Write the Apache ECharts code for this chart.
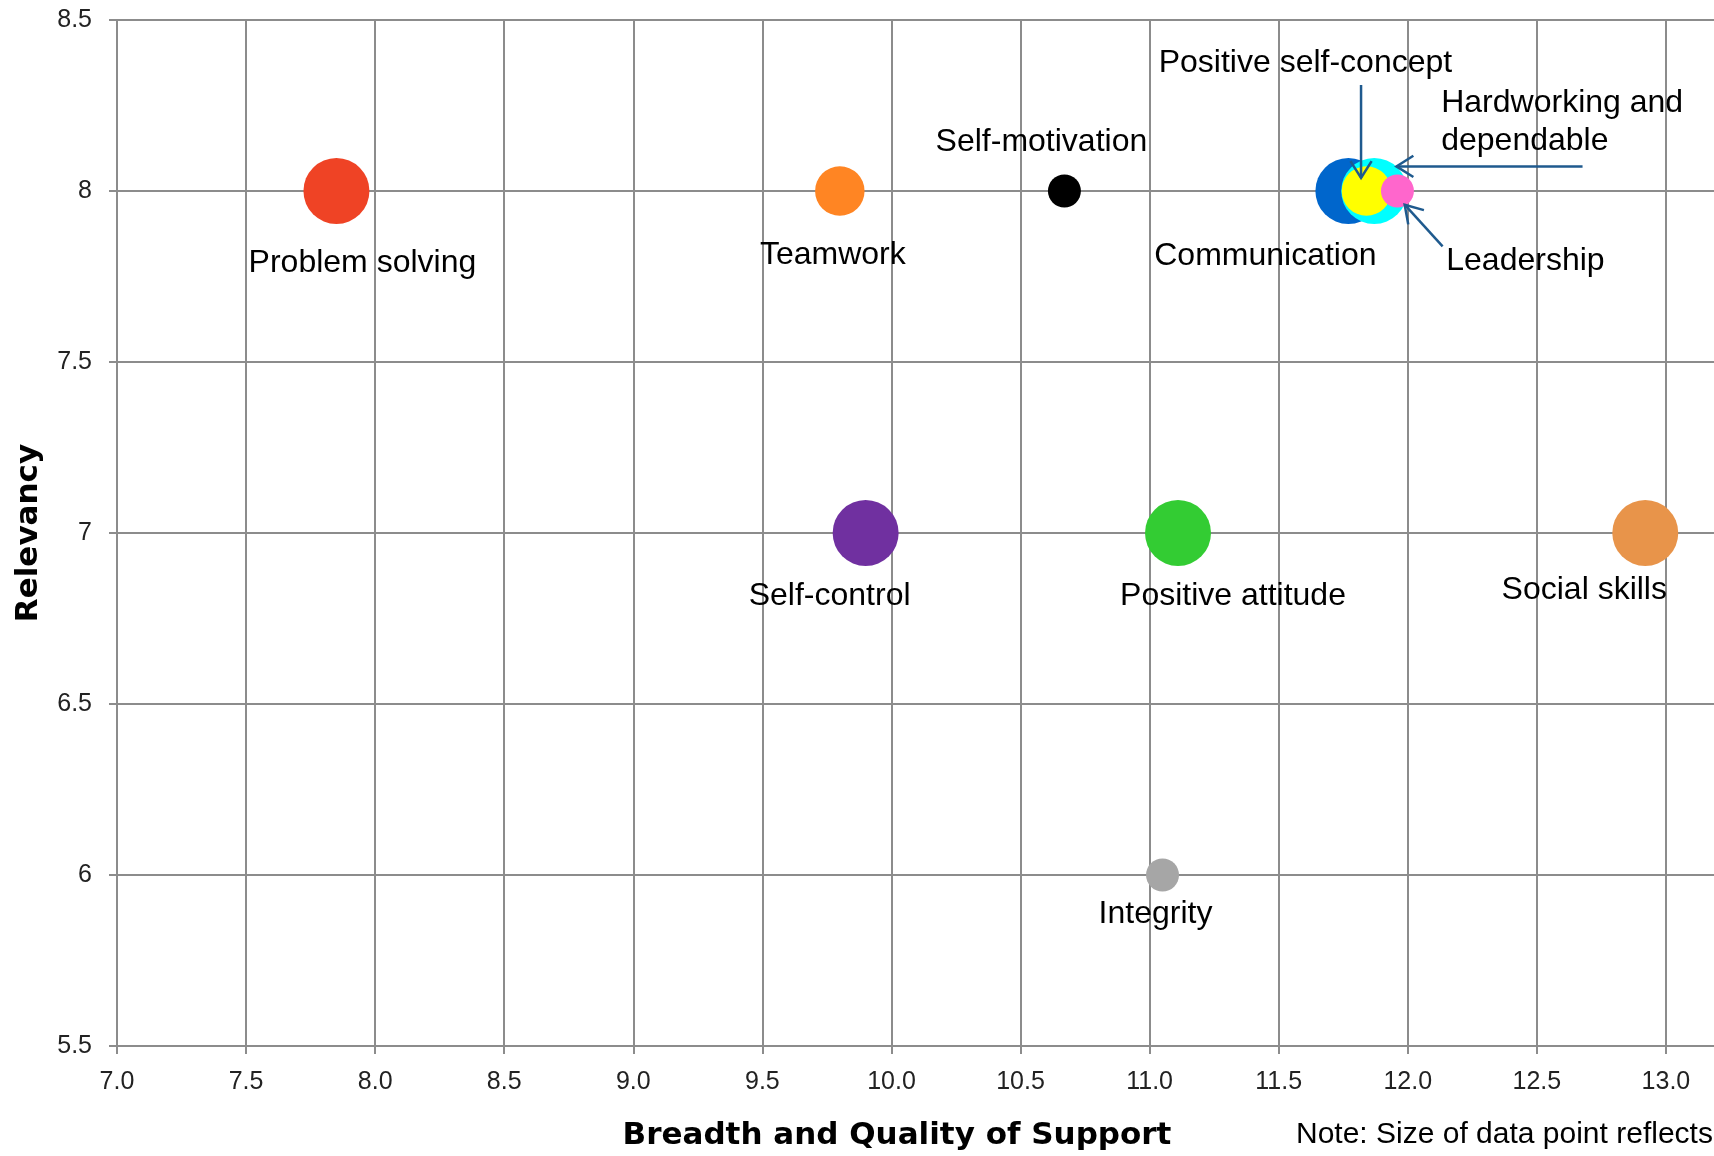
<!DOCTYPE html>
<html>
<head>
<meta charset="utf-8">
<script src="https://cdn.jsdelivr.net/npm/echarts@6/dist/echarts.min.js"></script>
<style>
html,body{margin:0;padding:0;overflow:hidden;background:#fff;width:1714px;height:1156px;}
#c{width:1900px;height:1156px;}
</style>
</head>
<body>
<div id="c"></div>
<script>
// ---- data ----
const skills = ['Problem solving','Teamwork','Self-motivation','Communication','Hardworking and\ndependable','Positive self-concept','Leadership','Self-control','Positive attitude','Social skills','Integrity'];
const support = [7.85, 9.80, 10.67, 11.77, 11.87, 11.84, 11.96, 9.90, 11.11, 12.92, 11.05];
const relevancy = [8, 8, 8, 8, 8, 8, 8, 7, 7, 7, 6];
const pointSize = [4, 3, 2, 4, 4, 3, 2, 4, 4, 4, 2];
const noteText = 'Note: Size of data point reflects';

// ---- styles / layout ----
const colors = ['#EF4325','#FF8523','#000000','#0066CC','#00FFFF','#FFFF00','#FF66CC','#7030A0','#33CC33','#E8944A','#A6A6A6'];
const labelOffsets = [[26,72],[-7,64],[-23,-49],[-83,65],[67,-69],[-61,-128],[128,70],[-36,63],[55,63],[-61,57],[-7,39]];
const labelAligns = ['center','center','center','center','left','center','center','center','center','center','center'];
// annotation arrows (data coordinates): from -> tip
const arrowFrom = [[11.819, 8.310],[12.677, 8.072],[12.135, 7.838]];
const arrowTo   = [[11.819, 8.038],[11.956, 8.072],[11.988, 7.960]];

const gridColor = '#8C8C8C';
const chart = echarts.init(document.getElementById('c'), null, {renderer:'canvas'});

const seriesData = skills.map((n, i) => ({
  name: n,
  value: [support[i], relevancy[i], pointSize[i]],
  itemStyle: {color: colors[i], opacity: 1},
  label: {offset: labelOffsets[i], align: labelAligns[i]}
}));

const option = {
  animation: false,
  backgroundColor: '#fff',
  grid: {left: 117, top: 20, right: 105, bottom: 108, containLabel: false},
  xAxis: {
    type: 'value', min: 7, max: 13.5, interval: 0.5,
    name: 'Breadth and Quality of Support',
    nameLocation: 'middle', nameGap: 74,
    nameTextStyle: {fontFamily: 'DejaVu Sans', fontWeight: 'bold', fontSize: 31, color: '#000', padding: [0, 118, 0, 0]},
    axisLine: {show: true, onZero: false, lineStyle: {color: gridColor, width: 2}},
    axisTick: {show: true, inside: false, length: 8, lineStyle: {color: gridColor, width: 2}},
    axisLabel: {margin: 24, fontFamily: 'Liberation Sans', fontSize: 25, color: '#222', formatter: v => v.toFixed(1)},
    splitLine: {show: true, lineStyle: {color: gridColor, width: 2}}
  },
  yAxis: {
    type: 'value', min: 5.5, max: 8.5, interval: 0.5,
    name: 'Relevancy',
    nameLocation: 'middle', nameGap: 73, nameRotate: 90,
    nameTextStyle: {fontFamily: 'DejaVu Sans', fontWeight: 'bold', fontSize: 31, color: '#000'},
    axisLine: {show: true, onZero: false, lineStyle: {color: gridColor, width: 2}},
    axisTick: {show: true, inside: false, length: 8, lineStyle: {color: gridColor, width: 2}},
    axisLabel: {margin: 25, fontFamily: 'Liberation Sans', fontSize: 25, color: '#222',
      formatter: v => Number.isInteger(v) ? String(v) : v.toFixed(1)},
    splitLine: {show: true, lineStyle: {color: gridColor, width: 2}}
  },
  series: [{
    type: 'scatter',
    data: seriesData,
    symbol: 'circle',
    symbolSize: v => v[2] * 16.5,
    itemStyle: {opacity: 1},
    label: {
      show: true, position: 'inside', formatter: '{b}',
      fontFamily: 'Liberation Sans', fontSize: 32, color: '#000', lineHeight: 38,
      verticalAlign: 'middle'
    },
    emphasis: {disabled: true}
  }]
};
chart.setOption(option);

// arrows drawn in pixel space via the chart's own coordinate conversion
const arrowColor = '#1F5A8E';
function arrowElements(from, to) {
  const p0 = chart.convertToPixel({gridIndex: 0}, from);
  const p1 = chart.convertToPixel({gridIndex: 0}, to);
  const ang = Math.atan2(p0[1] - p1[1], p0[0] - p1[0]);
  const L = 20, a = Math.PI / 180 * 32;
  const w1 = [p1[0] + L * Math.cos(ang + a), p1[1] + L * Math.sin(ang + a)];
  const w2 = [p1[0] + L * Math.cos(ang - a), p1[1] + L * Math.sin(ang - a)];
  return [
    {type: 'line', shape: {x1: p0[0], y1: p0[1], x2: p1[0], y2: p1[1]}, style: {stroke: arrowColor, lineWidth: 2.5}, z: 100},
    {type: 'polyline', shape: {points: [w1, p1, w2]}, style: {stroke: arrowColor, lineWidth: 2.5, fill: null}, z: 100}
  ];
}
let graphics = [];
for (let i = 0; i < arrowFrom.length; i++) graphics = graphics.concat(arrowElements(arrowFrom[i], arrowTo[i]));
graphics.push({
  type: 'text', x: 1296, y: 1135, z: 100,
  style: {text: noteText, fontFamily: 'Liberation Sans', fontSize: 30, fill: '#000', verticalAlign: 'middle', align: 'left'}
});
chart.setOption({graphic: graphics});
</script>
</body>
</html>
